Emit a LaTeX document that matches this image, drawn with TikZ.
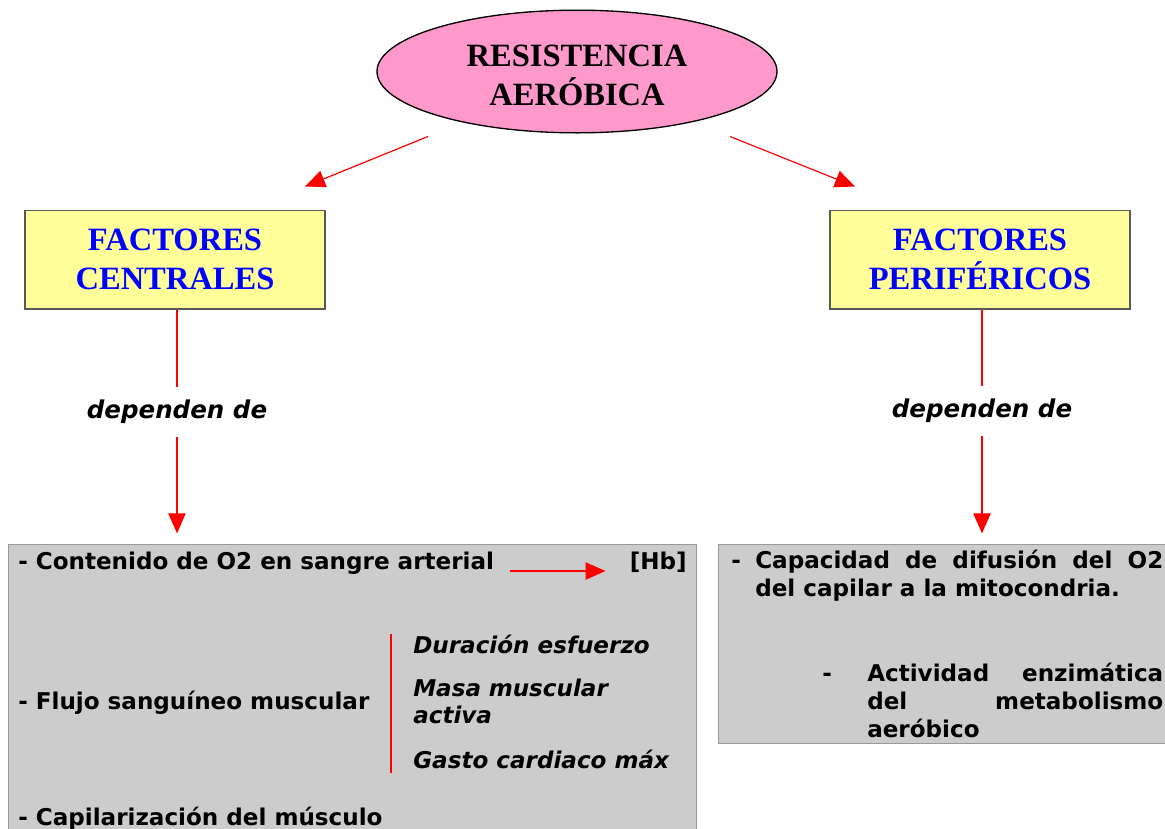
\documentclass[tikz,border=0pt]{standalone}
\usepackage{fontspec}
\setmainfont{Liberation Serif}
\setsansfont{DejaVu Sans}
\usepackage{tikz}
\usetikzlibrary{arrows.meta,shapes.geometric,calc}
\definecolor{rosa}{HTML}{FF99CC}
\definecolor{amarillo}{HTML}{FFFF99}
\definecolor{gris}{HTML}{CCCCCC}
\hbadness=10000
\tikzset{%
  >={Triangle[length=15pt,width=13pt]},
  % Specifications for style of nodes:
            title/.style = {ellipse, draw=black, line width=1pt, fill=rosa,
                            minimum width=300pt, minimum height=92pt, inner sep=0pt,
                            align=center, font=\fontsize{24.4}{29}\selectfont\bfseries},
           factor/.style = {rectangle, draw=black!65, line width=1pt, fill=amarillo,
                            minimum width=225pt, minimum height=74pt, inner sep=0pt,
                            align=center, text=blue, font=\fontsize{24.4}{29}\selectfont\bfseries},
              dep/.style = {minimum height=37.5pt, inner sep=0pt,
                            font=\sffamily\bfseries\itshape\fontsize{18.4}{22}\selectfont},
             card/.style = {rectangle, draw=black!40, line width=0.75pt, fill=gris,
                            anchor=north west, inner sep=0pt},
             item/.style = {anchor=base west, inner sep=0pt,
                            font=\sffamily\bfseries\fontsize{17.3}{21}\selectfont},
              sub/.style = {item, font=\sffamily\bfseries\itshape\fontsize{17.3}{20.3}\selectfont},
             link/.style = {red, line width=0.9pt}
                           }

\begin{document}
\begin{tikzpicture}[x=0.75pt, y=-0.75pt]
                    \useasboundingbox (0,0) rectangle (1165,829);

                    \node (resist)  [title]  at (577,71.5)  {\rule{0pt}{22pt}RESISTENCIA\\AERÓBICA};
                    \node (central) [factor] at (175,259.5) {FACTORES\\CENTRALES};
                    \node (perif)   [factor] at (980,259.5) {FACTORES\\PERIFÉRICOS};

                    \node (dep1) [dep] at (177,412) {dependen de};
                    \node (dep2) [dep] at (982,411) {dependen de};

                    \node (left)  [card, minimum width=516pt, minimum height=222pt]   at (8,544)   {};
                    \node (right) [card, minimum width=343pt, minimum height=149.25pt] at (718,544) {};

                    % left box
                    \node (cont)  [item]                    at (18,569)  {- Contenido de O2 en sangre arterial};
                    \node (hb)    [item, anchor=base east]  at (687,569) {[Hb]};
                    \node (flujo) [item]                    at (18,709)  {- Flujo sanguíneo muscular};
                    \node (dur)   [sub]                     at (413,653) {Duración esfuerzo};
                    \node (masa)  [sub, text width=195pt]   at (413,696) {Masa muscular\\activa};
                    \node (gasto) [sub]                     at (413,768) {Gasto cardiaco máx};
                    \node (capil) [item]                    at (18,825)  {- Capilarización del músculo};

                    % right box
                    \node (dash1) [item] at (731,568) {-};
                    \node (difus) [item, text width=306pt, align=justify] at (755,568)
                          {Capacidad de difusión del O2\linebreak del capilar a la mitocondria.};
                    \node (dash2) [item] at (822,681) {-};
                    \node (enzim) [item, text width=222pt, align=justify] at (867,681)
                          {Actividad enzimática\linebreak del metabolismo\linebreak aeróbico};

                    \draw[link, ->] ($(resist.south)+(-149,3)$) -- ($(central.north)+(130,-23)$);
                    \draw[link, ->] ($(resist.south)+(153,3)$)  -- ($(perif.north)+(-125,-23)$);

                    \draw[link]     (dep1.north |- central.south) -- (dep1.north);
                    \draw[link, ->, shorten >=8pt] (dep1.south) -- (dep1.south |- left.north);
                    \draw[link]     (dep2.north |- perif.south) -- (dep2.north);
                    \draw[link, ->, shorten >=8pt] (dep2.south) -- (dep2.south |- right.north);

                    \draw[link, ->] ($(cont.base east)+(16,2)$) -- ($(hb.base west)+(-24,2)$);
                    \draw[link] ($(dur.north west)+(-22,0)$) -- ($(gasto.south west)+(-22,4)$);
                \end{tikzpicture}
\end{document}
